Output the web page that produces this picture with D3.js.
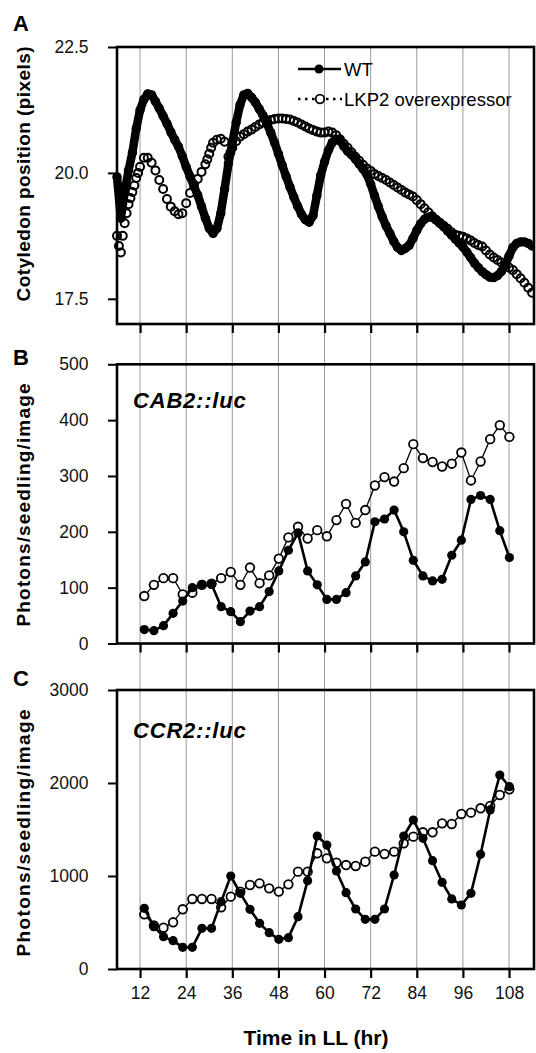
<!DOCTYPE html>
<html>
<head>
<meta charset="utf-8">
<script src="https://cdn.jsdelivr.net/npm/d3@7"></script>
<style>
  body { margin: 0; background: #fff; }
  svg { display: block; }
  text { font-family: "Liberation Sans", Arial, Helvetica, sans-serif; }
</style>
</head>
<body>
<svg id="fig" width="536" height="1053"></svg>
<script>
// ---------------- data ----------------
const hourTicks = [12, 24, 36, 48, 60, 72, 84, 96, 108];

// Panel A: cotyledon position (pixels), wild type
const wtA_hours = [6,7,8,9,10,11,12,13,14,15,16,17,18,19,20,21,22,23,24,25,26,27,28,29,30,
  31,32,33,34,35,36,37,38,39,40,41,42,43,44,45,46,47,48,49,50,51,52,53,54,55,56,57,58,59,60,
  61,62,63,64,65,66,67,68,69,70,71,72,73,74,75,76,77,78,79,80,81,82,83,84,85,86,87,88,89,90,
  91,92,93,94,95,96,97,98,99,100,101,102,103,104,105,106,107,108,109,110,111,112,113,114];
const wtA_pos = [19.92,19.1,19.62,20.05,20.4,20.88,21.25,21.46,21.57,21.55,21.42,21.28,21.13,20.98,20.81,
  20.66,20.52,20.33,20.12,19.93,19.74,19.56,19.33,19.1,18.9,
  18.8,18.9,19.2,19.68,20.19,20.6,21.0,21.35,21.55,21.58,21.5,21.4,21.27,21.14,20.98,20.8,20.6,20.38,20.15,19.93,
  19.72,19.52,19.34,19.18,19.07,19.02,19.15,19.55,19.95,20.22,
  20.45,20.6,20.67,20.64,20.53,20.43,20.36,20.28,20.18,20.08,19.97,19.78,19.55,19.33,19.13,18.95,18.8,18.64,18.52,18.46,
  18.5,18.56,18.7,18.86,18.99,19.08,19.12,19.12,19.07,19.0,
  18.93,18.85,18.77,18.69,18.61,18.53,18.43,18.32,18.21,18.12,18.04,17.98,17.93,17.92,17.96,18.04,18.17,18.35,18.52,18.6,
  18.63,18.63,18.6,18.55];

// Panel A: cotyledon position (pixels), LKP2 overexpressor
const lkpA_hours = [6,6.5,7,7.5,8,8.5,9,9.5,10,10.5,11,11.5,12,13,14,15,16,17,18,19,20,21,22,23,24,25,26,27,28,29,29.5,30,30.5,
  31,32,33,34,35,35.5,36,37,38,39,40,41,42,43,44,45,46,47,48,49,50,51,52,53,54,55,56,57,58,59,60,
  61,62,63,64,65,66,67,68,69,70,71,72,73,74,75,76,77,78,79,80,81,82,83,84,85,86,87,88,89,90,
  91,92,93,94,95,96,97,98,99,100,101,102,103,104,105,106,107,108,109,110,111,112,113,114];
const lkpA_pos = [18.75,18.55,18.42,18.75,19.0,19.2,19.38,19.5,19.62,19.75,19.9,20.0,20.12,20.3,20.3,20.2,20.05,19.86,19.68,19.48,
  19.33,19.24,19.18,19.2,19.4,19.6,19.77,19.88,20.02,20.17,20.27,20.38,20.5,
  20.6,20.66,20.68,20.62,20.32,20.4,20.5,20.63,20.72,20.77,20.82,20.86,20.91,20.96,21.0,21.03,21.05,21.07,21.08,21.08,21.07,
  21.06,21.03,21.0,20.96,20.92,20.88,20.85,20.82,20.8,20.8,
  20.82,20.8,20.75,20.67,20.58,20.5,20.41,20.32,20.24,20.16,20.09,20.04,19.98,19.94,19.9,19.86,19.81,19.76,19.71,19.66,
  19.61,19.57,19.53,19.46,19.38,19.3,19.22,19.14,19.07,19.01,
  18.95,18.89,18.82,18.77,18.75,18.73,18.7,18.66,18.61,18.57,18.54,18.46,18.38,18.32,18.27,18.22,18.17,18.12,18.07,17.99,
  17.91,17.82,17.72,17.62];

// Panels B and C: luminescence sampling times (hr in LL)
const lumHours = [13.1,15.6,18.1,20.6,23.1,25.6,28.1,30.6,33.1,35.6,38.1,40.6,43.1,45.6,48.1,50.6,53.1,55.6,58.1,
  60.6,63.1,65.6,68.1,70.6,73.1,75.6,78.1,80.6,83.1,85.6,88.1,90.6,93.1,95.6,98.1,100.6,103.1,105.6,108.1];

// Panel B: CAB2::luc photons/seedling/image
const cabWT = [25,23,32,54,76,100,106,106,66,57,39,58,66,93,130,167,198,130,105,
  79,79,91,121,146,218,223,239,200,149,121,112,115,158,185,258,265,258,202,154];
const cabLKP = [85,105,117,117,88,91,105,107,117,128,105,136,108,122,152,190,209,188,203,
  192,221,250,216,239,283,298,290,314,357,332,325,317,322,342,292,326,366,391,370];

// Panel C: CCR2::luc photons/seedling/image
const ccrWT = [652,455,348,305,233,233,437,437,724,1000,814,642,491,391,319,337,563,950,1430,
  1333,1054,821,645,534,534,645,1011,1430,1602,1405,1165,932,753,688,814,1233,1710,2086,1960];
const ccrLKP = [588,468,444,502,642,753,753,753,663,778,832,903,921,867,832,910,1047,1047,1244,
  1190,1143,1118,1108,1154,1262,1237,1262,1351,1423,1470,1470,1566,1559,1667,1681,1728,1753,1871,1932];

const ticksA = [17.5, 20, 22.5];
const ticksB = [0, 100, 200, 300, 400, 500];
const ticksC = [0, 1000, 2000, 3000];

// ---------------- drawing ----------------
const svg = d3.select("#fig");
const FONT = '"Liberation Sans", Arial, Helvetica, sans-serif';

const x = d3.scaleLinear().domain([6, 114.5]).range([117, 534]);

const panels = [
  { key: "A", y: d3.scaleLinear().domain([17, 22.5]).range([324, 47]), ticks: ticksA,
    fmt: d3.format(".1f"), title: "Cotyledon position (pixels)", titleY: 174, titleLen: 255, letterY: 30.5 },
  { key: "B", y: d3.scaleLinear().domain([0, 500]).range([643.5, 364.3]), ticks: ticksB,
    fmt: d3.format("d"), title: "Photons/seedling/image", titleY: 505, titleLen: 243, letterY: 365,
    tag: "CAB2::luc", tagY: 408, wt: cabWT, lkp: cabLKP },
  { key: "C", y: d3.scaleLinear().domain([0, 3000]).range([969, 690]), ticks: ticksC,
    fmt: d3.format("d"), title: "Photons/seedling/image", titleY: 833, titleLen: 247, letterY: 686,
    tag: "CCR2::luc", tagY: 738, wt: ccrWT, lkp: ccrLKP }
];

// shared vertical hour gridlines running through all three panels
svg.append("g").selectAll("line").data(hourTicks).join("line")
  .attr("x1", d => x(d)).attr("x2", d => x(d))
  .attr("y1", 47).attr("y2", 969)
  .attr("stroke", "#808080").attr("stroke-width", 0.8);

const defs = svg.append("defs");

panels.forEach((p, i) => {
  const [yBot, yTop] = p.y.range();
  const g = svg.append("g");

  defs.append("clipPath").attr("id", "clip" + p.key)
    .append("rect").attr("x", 100).attr("y", yTop).attr("width", 434).attr("height", yBot - yTop);
  const plot = g.append("g").attr("clip-path", `url(#clip${p.key})`);

  if (p.key === "A") {
    // wild type: dense filled markers merging into a thick trace
    plot.append("path")
      .datum(wtA_hours.map((h, j) => [h, wtA_pos[j]]))
      .attr("fill", "none").attr("stroke", "#000").attr("stroke-width", 8.5)
      .attr("stroke-linejoin", "round").attr("stroke-linecap", "round")
      .attr("d", d3.line().x(d => x(d[0])).y(d => p.y(d[1])));
    plot.append("g").selectAll("circle").data(wtA_hours).join("circle")
      .attr("cx", d => x(d)).attr("cy", (d, j) => p.y(wtA_pos[j])).attr("r", 4.7).attr("fill", "#000");
    // LKP2 overexpressor: open rings
    plot.append("g").selectAll("circle").data(lkpA_hours).join("circle")
      .attr("cx", d => x(d)).attr("cy", (d, j) => p.y(lkpA_pos[j])).attr("r", 4.0)
      .attr("fill", "none").attr("stroke", "#000").attr("stroke-width", 2.0);
  } else {
    const line = d3.line().x((d, j) => x(lumHours[j])).y(d => p.y(d));
    plot.append("path").datum(p.lkp).attr("d", line)
      .attr("fill", "none").attr("stroke", "#000").attr("stroke-width", 1.3);
    plot.append("g").selectAll("circle").data(p.lkp).join("circle")
      .attr("cx", (d, j) => x(lumHours[j])).attr("cy", d => p.y(d)).attr("r", 4.3)
      .attr("fill", "#fff").attr("stroke", "#000").attr("stroke-width", 1.8);
    plot.append("path").datum(p.wt).attr("d", line)
      .attr("fill", "none").attr("stroke", "#000").attr("stroke-width", 2.6)
      .attr("stroke-linejoin", "round");
    plot.append("g").selectAll("circle").data(p.wt).join("circle")
      .attr("cx", (d, j) => x(lumHours[j])).attr("cy", d => p.y(d)).attr("r", 4.6).attr("fill", "#000");

    g.append("text").text(p.tag)
      .attr("x", 133).attr("y", p.tagY)
      .attr("font-family", FONT).attr("font-size", 22).attr("font-weight", "bold")
      .attr("font-style", "italic").attr("letter-spacing", 0.8).attr("fill", "#000");
  }

  // frame
  g.append("rect").attr("x", 117).attr("y", yTop).attr("width", 534 - 117).attr("height", yBot - yTop)
    .attr("fill", "none").attr("stroke", "#000").attr("stroke-width", 2.6);

  // left axis
  const ya = g.append("g").attr("transform", "translate(117,0)")
    .call(d3.axisLeft(p.y).tickValues(p.ticks).tickFormat(p.fmt).tickSize(9).tickPadding(19.5));
  ya.select(".domain").remove();
  ya.selectAll(".tick line").attr("stroke", "#000").attr("stroke-width", 2);
  ya.selectAll(".tick text").attr("font-family", FONT).attr("font-size", 17.5).attr("fill", "#111");

  // bottom axis (labels only under the last panel)
  const xa = g.append("g").attr("transform", `translate(0,${yBot})`)
    .call(d3.axisBottom(x).tickValues(hourTicks).tickSize(9).tickPadding(8.6)
      .tickFormat(i === 2 ? d3.format("d") : () => ""));
  xa.select(".domain").remove();
  xa.selectAll(".tick line").attr("stroke", "#000").attr("stroke-width", 2.2);
  xa.selectAll(".tick text").attr("font-family", FONT).attr("font-size", 17.5).attr("fill", "#111");

  // y title
  g.append("text").text(p.title)
    .attr("transform", `translate(30,${p.titleY}) rotate(-90)`)
    .attr("text-anchor", "middle")
    .attr("textLength", p.titleLen).attr("lengthAdjust", "spacing")
    .attr("font-family", FONT).attr("font-size", 19).attr("font-weight", "bold").attr("fill", "#000");

  // panel letter
  g.append("text").text(p.key).attr("x", 13).attr("y", p.letterY)
    .attr("font-family", FONT).attr("font-size", 22).attr("font-weight", "bold").attr("fill", "#000");
});

// legend (panel A)
const lg = svg.append("g");
lg.append("line").attr("x1", 298).attr("x2", 341).attr("y1", 69).attr("y2", 69)
  .attr("stroke", "#000").attr("stroke-width", 2.4);
lg.append("circle").attr("cx", 319).attr("cy", 69).attr("r", 4.5).attr("fill", "#000");
lg.append("text").text("WT").attr("x", 344).attr("y", 76)
  .attr("font-family", FONT).attr("font-size", 18.5).attr("fill", "#000");
lg.append("line").attr("x1", 298).attr("x2", 342).attr("y1", 99).attr("y2", 99)
  .attr("stroke", "#000").attr("stroke-width", 2.4).attr("stroke-dasharray", "2.5,4.5");
lg.append("circle").attr("cx", 320).attr("cy", 99).attr("r", 4.3)
  .attr("fill", "#fff").attr("stroke", "#000").attr("stroke-width", 1.8);
lg.append("text").text("LKP2 overexpressor").attr("x", 344).attr("y", 106)
  .attr("font-family", FONT).attr("font-size", 18.5).attr("fill", "#000");

// x title
svg.append("text").text("Time in LL (hr)")
  .attr("x", 316).attr("y", 1045).attr("text-anchor", "middle")
  .attr("font-family", FONT).attr("font-size", 21).attr("font-weight", "bold").attr("fill", "#000");
</script>
</body>
</html>
